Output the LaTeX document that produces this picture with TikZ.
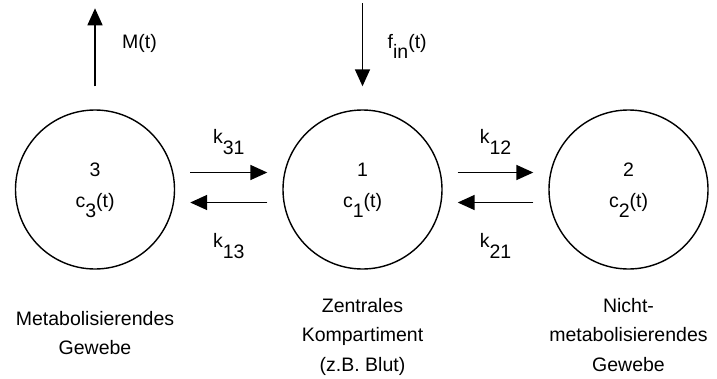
\documentclass[tikz,border=0pt]{standalone}
\usepackage{fontspec}
\setmainfont{Liberation Sans}
\usetikzlibrary{arrows.meta,positioning,calc}
\newcommand{\lowered}[1]{\raisebox{-0.55em}{#1}}

\begin{document}
\begin{tikzpicture}[
  x=1pt,
  y=-1pt,
  font=\fontsize{19.5pt}{29.5pt}\selectfont,
  >={Triangle[length=17pt,width=15pt]},
  compartment/.style={
    draw,
    circle,
    line width=1.4pt,
    minimum size=159pt,
    inner sep=0pt
  },
  flow/.style={
    ->,
    line width=1.6pt
  },
  caption/.style={
    align=center,
    inner sep=0pt
  }
]
  \useasboundingbox (0,0) rectangle (717,378);

  % ---------------------------------------------------------------------------
  % COMPARTMENTS
  % ---------------------------------------------------------------------------
  \node[compartment] (c3) at (95,189.5) {};
  \node[compartment] (c1) at (362.5,189.5) {};
  \node[compartment] (c2) at (628.5,189.5) {};

  \node[anchor=base] (n3) at ([yshift=13.5pt]c3.center) {3};
  \node[anchor=base] (conc3) at ([yshift=-17.5pt]c3.center) {c\lowered{3}(t)};
  \node[anchor=base] (n1) at ([yshift=13.5pt]c1.center) {1};
  \node[anchor=base] (conc1) at ([yshift=-17.5pt]c1.center) {c\lowered{1}(t)};
  \node[anchor=base] (n2) at ([yshift=13.5pt]c2.center) {2};
  \node[anchor=base] (conc2) at ([yshift=-17.5pt]c2.center) {c\lowered{2}(t)};

  % ---------------------------------------------------------------------------
  % EXCHANGE RATES
  % ---------------------------------------------------------------------------
  \draw[flow] ([shift={(15pt,17pt)}]c3.east) -- ([shift={(-15pt,17pt)}]c1.west)
    node[midway, anchor=base, yshift=29pt] (k31) {k\lowered{31}};
  \draw[flow] ([shift={(-15pt,-13pt)}]c1.west) -- ([shift={(15pt,-13pt)}]c3.east)
    node[midway, anchor=base, yshift=-45pt] (k13) {k\lowered{13}};

  \draw[flow] ([shift={(15pt,17pt)}]c1.east) -- ([shift={(-15pt,17pt)}]c2.west)
    node[midway, anchor=base, yshift=29pt] (k12) {k\lowered{12}};
  \draw[flow] ([shift={(-15pt,-13pt)}]c2.west) -- ([shift={(15pt,-13pt)}]c1.east)
    node[midway, anchor=base, yshift=-45pt] (k21) {k\lowered{21}};

  % ---------------------------------------------------------------------------
  % INPUT AND METABOLISM
  % ---------------------------------------------------------------------------
  \coordinate (mout) at ([yshift=101pt]c3.north);
  \draw[flow] ([yshift=23pt]c3.north) -- (mout);
  \node[anchor=base west, inner sep=0pt] (mlabel) at ([shift={(27pt,61.3pt)}]c3.north) {M(t)};

  \coordinate (fin) at ([yshift=106pt]c1.north);
  \draw[flow] (fin) -- ([yshift=23pt]c1.north);
  \node[anchor=base west, inner sep=0pt] (finlabel) at ([shift={(25pt,61.3pt)}]c1.north) {f\lowered{in}(t)};

  % ---------------------------------------------------------------------------
  % CAPTIONS
  % ---------------------------------------------------------------------------
  \node[caption, below=41pt of c3] (cap3) {Metabolisierendes\\Gewebe};
  \node[caption, below=28pt of c1] (cap1) {Zentrales\\Kompartiment\\(z.B. Blut)};
  \node[caption, below=28pt of c2] (cap2) {Nicht-\\metabolisierendes\\Gewebe};

\end{tikzpicture}
\end{document}
